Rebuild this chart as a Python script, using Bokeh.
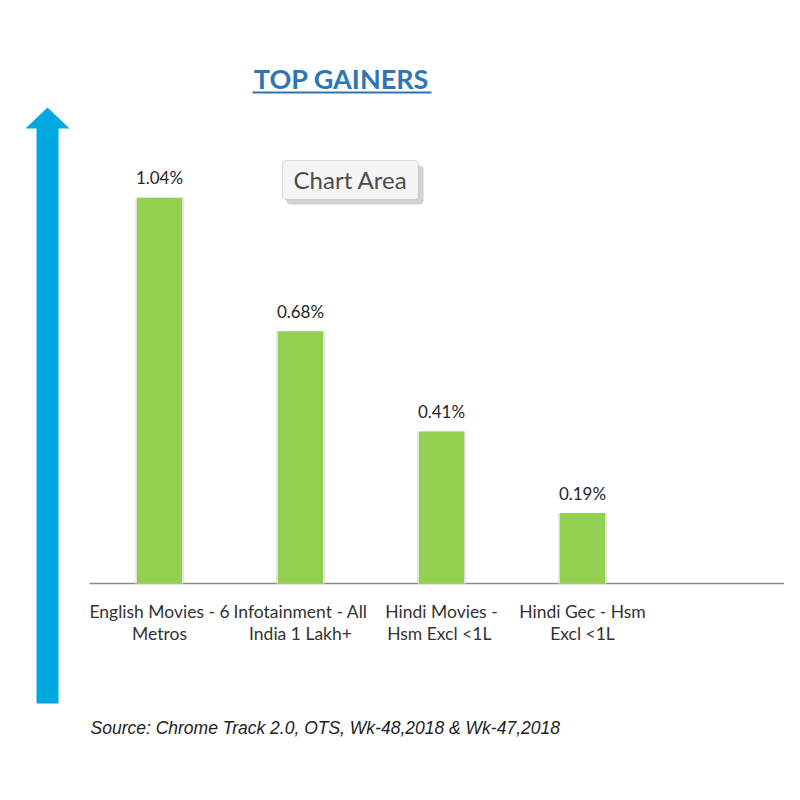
from bokeh.plotting import figure
from bokeh.models import Range1d, Label, BoxAnnotation
from bokeh.core.properties import value
from bokeh.embed import file_html
from bokeh.resources import INLINE

# data
categories = ["English Movies - 6\nMetros", "Infotainment - All\nIndia 1 Lakh+",
              "Hindi Movies -\nHsm Excl  <1L", "Hindi Gec - Hsm\nExcl <1L"]
gains = [1.04, 0.68, 0.41, 0.19]
gain_labels = ["1.04%", "0.68%", "0.41%", "0.19%"]
title_text = "TOP GAINERS"
source_note = "Source: Chrome Track 2.0, OTS, Wk-48,2018 & Wk-47,2018"

W = H = 784
X0, DX = 159, 141   # px of first bar centre, px per category
Y0, DY = 583, 371   # px (from top) of baseline, px per 1 %


def dx(px):
    return (px - X0) / DX


def dy(py):
    return (Y0 - py) / DY


p = figure(width=W, height=H, output_backend="svg", toolbar_location=None,
           x_range=Range1d(dx(0), dx(W)), y_range=Range1d(dy(H), dy(0)),
           min_border=0, outline_line_color=None)
p.axis.visible = False
p.grid.visible = False

xs = list(range(len(categories)))

# big blue arrow on the left
ax = [47, 69, 58, 58, 36, 36, 25]
ay = [107, 128, 128, 703, 703, 128, 128]
p.patch([dx(v) for v in ax], [dy(v) for v in ay], fill_color="#00A8E1", line_color=None)

# baseline
p.line([dx(89), dx(784)], [0, 0], line_color="#8c8c8c", line_width=1.6)

# bars with a faint shadow
p.vbar(x=xs, top=gains, bottom=0, width=0.345, fill_color="#e3e3e3", line_color=None)
p.vbar(x=xs, top=gains, bottom=0, width=0.32, fill_color="#92D050", line_color=None)

p.text(x=xs, y=gains, text=gain_labels, text_align="center", text_baseline="middle",
       y_offset=-20, text_font=value("Lato"), text_font_size="17px", text_color="#262626")

line1 = [c.split("\n")[0] for c in categories]
line2 = [c.split("\n")[1] for c in categories]
p.text(x=xs, y=[0] * len(xs), text=line1, text_align="center", text_baseline="middle",
       y_offset=28, text_font=value("Lato"), text_font_size="17.5px", text_color="#333333")
p.text(x=xs, y=[0] * len(xs), text=line2, text_align="center", text_baseline="middle",
       y_offset=50, text_font=value("Lato"), text_font_size="17.5px", text_color="#333333")

# title with underline
p.add_layout(Label(x=dx(341), y=dy(78), text=title_text, text_align="center",
                   text_baseline="middle", text_font="Lato", text_font_style="bold",
                   text_font_size="27px", text_color="#2E75B6"))
p.line([dx(252), dx(431)], [dy(92), dy(92)], line_color="#2E75B6", line_width=2)

# "Chart Area" tooltip box
p.add_layout(BoxAnnotation(left=dx(286), right=dx(423), top=dy(165), bottom=dy(204),
                           fill_color="#b5b5b5", fill_alpha=0.6, line_color=None,
                           border_radius=4))
p.add_layout(BoxAnnotation(left=dx(282), right=dx(418), top=dy(160), bottom=dy(199),
                           fill_color="#f5f5f5", fill_alpha=1, line_color="#9a9a9a",
                           line_width=1.2, border_radius=4))
p.add_layout(Label(x=dx(350), y=dy(179), text="Chart Area", text_align="center",
                   text_baseline="middle", text_font="Lato", text_font_size="24px",
                   text_color="#4d4d4d"))

# source note
p.add_layout(Label(x=dx(90), y=dy(727), text=source_note, text_align="left",
                   text_baseline="middle", text_font="Liberation Sans",
                   text_font_style="italic", text_font_size="17.5px", text_color="#222222"))

open("out.html", "w").write(file_html(p, INLINE))
